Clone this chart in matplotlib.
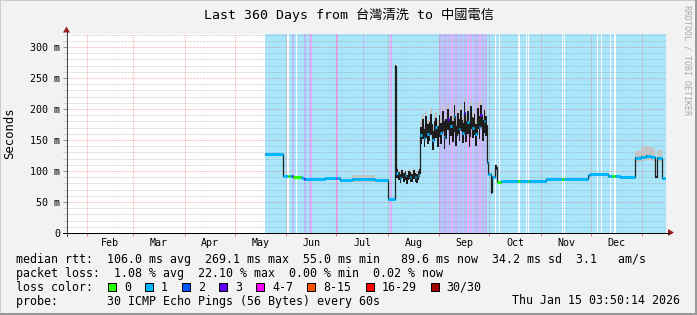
import matplotlib
matplotlib.use("Agg")
import matplotlib.pyplot as plt
import matplotlib.dates as mdates
from matplotlib.patches import Rectangle, Polygon
from matplotlib.lines import Line2D
import numpy as np
import pandas as pd

# ---------------- data ----------------
title = "Last 360 Days from 台灣清洗 to 中國電信"
y_label = "Seconds"
watermark = "RRDTOOL / TOBI OETIKER"
x_start = "2025-01-20 03:50:14"
x_end = "2026-01-15 03:50:14"
month_labels = ["Feb", "Mar", "Apr", "May", "Jun", "Jul", "Aug", "Sep", "Oct", "Nov", "Dec"]
month_starts = ["2025-02-01", "2025-03-01", "2025-04-01", "2025-05-01", "2025-06-01",
                "2025-07-01", "2025-08-01", "2025-09-01", "2025-10-01", "2025-11-01",
                "2025-12-01", "2026-01-01"]
y_ticks_ms = [0, 50, 100, 150, 200, 250, 300]
y_tick_labels = ["0", "50 m", "100 m", "150 m", "200 m", "250 m", "300 m"]
y_max_ms = 321.8

loss_labels = ["0", "1", "2", "3", "4-7", "8-15", "16-29", "30/30"]

# median rtt (ms) at change points, smoke spreads (ms) and loss class (-1 = no colour)
med_time = [
    "2025-05-19 10:00", "2025-05-30 00:00", "2025-06-02 00:00", "2025-06-03 06:00",
    "2025-06-04 12:00", "2025-06-05 06:00", "2025-06-09 12:00", "2025-06-10 14:00",
    "2025-06-11 08:00", "2025-06-12 00:00", "2025-06-24 00:00", "2025-07-01 00:00",
    "2025-07-01 12:00", "2025-07-03 00:00", "2025-07-10 08:00", "2025-07-24 12:00",
    "2025-08-01 02:00", "2025-08-05 00:00", "2025-08-05 14:00",
    "2025-08-06 04:00", "2025-08-07 04:00", "2025-08-08 04:00", "2025-08-09 04:00",
    "2025-08-10 04:00", "2025-08-11 04:00", "2025-08-12 04:00", "2025-08-13 04:00",
    "2025-08-14 04:00", "2025-08-15 04:00", "2025-08-16 04:00", "2025-08-17 04:00",
    "2025-08-18 04:00", "2025-08-19 04:00", "2025-08-20 00:00",
    "2025-08-20 12:00", "2025-08-21 12:00", "2025-08-22 12:00", "2025-08-23 12:00",
    "2025-08-24 12:00", "2025-08-25 12:00", "2025-08-26 12:00", "2025-08-27 12:00",
    "2025-08-28 12:00", "2025-08-29 12:00", "2025-08-30 12:00", "2025-08-31 12:00",
    "2025-09-01 12:00", "2025-09-02 12:00", "2025-09-03 12:00", "2025-09-04 12:00",
    "2025-09-05 12:00", "2025-09-06 12:00", "2025-09-07 12:00", "2025-09-08 12:00",
    "2025-09-09 12:00", "2025-09-10 12:00", "2025-09-11 12:00", "2025-09-12 12:00",
    "2025-09-13 12:00", "2025-09-14 12:00", "2025-09-15 12:00", "2025-09-16 12:00",
    "2025-09-17 12:00", "2025-09-18 12:00", "2025-09-19 12:00", "2025-09-20 12:00",
    "2025-09-21 12:00", "2025-09-22 12:00", "2025-09-23 12:00", "2025-09-24 12:00",
    "2025-09-25 12:00", "2025-09-26 12:00", "2025-09-27 12:00", "2025-09-28 12:00",
    "2025-09-29 16:00", "2025-09-30 10:00", "2025-10-01 18:00", "2025-10-02 12:00",
    "2025-10-04 12:00", "2025-10-05 08:00", "2025-10-08 06:00", "2025-10-18 12:00",
    "2025-10-19 06:00", "2025-10-24 06:00", "2025-10-24 20:00", "2025-11-04 06:00",
    "2025-11-13 12:00", "2025-11-15 00:00", "2025-11-29 12:00", "2025-11-30 08:00",
    "2025-12-11 02:00", "2025-12-14 00:00", "2025-12-15 12:00", "2025-12-18 08:00",
    "2025-12-27 08:00", "2025-12-31 00:00", "2026-01-03 00:00", "2026-01-06 00:00",
    "2026-01-08 08:00", "2026-01-09 12:00", "2026-01-12 12:00",
]
med_ms = [
    127, 91.5, 91.5, 91.5,
    92, 91, 90, 89,
    87.5, 86.5, 89, 89,
    89, 86, 86.5, 85.7,
    55, 215, 269,
    96, 92, 88, 95,
    90, 93, 87, 94,
    91, 89, 95, 90,
    88, 93, 97,
    158, 168, 154, 172,
    160, 165, 176, 150,
    166, 171, 157, 175,
    162, 181, 155, 169,
    184, 161, 173, 164,
    189, 158, 177, 167,
    183, 162, 194, 165,
    179, 157, 187, 170,
    176, 159, 186, 171,
    190, 166, 181, 174,
    115, 95, 66, 90,
    106, 82, 84.5, 84.5,
    84.5, 84.5, 84.5, 86.7,
    86.7, 86.7, 93, 95.3,
    92, 92, 92, 90.5,
    121, 123, 125, 123,
    90, 121, 89,
]
smoke_dark = [
    0, 0, 0, 0,
    0, 0, 0, 1,
    1, 0, 0, 0,
    0, 0, 0, 0,
    0, 3, 3,
    8, 7, 8, 7,
    8, 7, 8, 7,
    8, 7, 8, 7,
    8, 7, 7,
    15, 17, 15, 18,
    17, 16, 18, 16,
    16, 17, 18, 17,
    18, 17, 19, 17,
    18, 19, 17, 18,
    19, 17, 18, 19,
    18, 17, 19, 18,
    19, 18, 19, 17,
    18, 19, 18, 19,
    19, 18, 19, 17,
    3, 2, 3, 2,
    4, 0, 0, 0,
    0, 0, 0, 0,
    0, 0, 0, 0,
    0, 0, 0, 0,
    1, 1, 1, 1,
    2, 1, 0,
]
smoke_light = [
    1, 1, 1, 1,
    1, 1, 1, 2,
    2, 1, 1, 1,
    1, 1, 7, 1,
    1, 5, 5,
    10, 9, 10, 9,
    10, 9, 10, 9,
    10, 9, 10, 9,
    10, 9, 9,
    22, 24, 21, 25,
    23, 22, 25, 23,
    22, 24, 25, 23,
    25, 24, 26, 23,
    25, 26, 24, 25,
    26, 23, 25, 26,
    25, 24, 26, 25,
    26, 25, 26, 24,
    25, 26, 25, 26,
    26, 25, 26, 24,
    5, 4, 4, 4,
    6, 1, 1, 1,
    1, 1, 1, 1,
    1, 1, 1, 1,
    1, 1, 1, 1,
    12, 15, 16, 14,
    3, 13, 1,
]
med_loss = [
    1, 1, 0, 1,
    3, 0, 1, 1,
    3, 1, 1, 4,
    1, 1, 1, 1,
    1, 3, -1,
    1, -1, 1, -1,
    -1, 1, -1, -1,
    1, -1, -1, 1,
    -1, 1, -1,
    1, -1, 1, -1,
    1, -1, -1, 1,
    -1, 1, -1, -1,
    1, -1, 1, -1,
    3, -1, 1, -1,
    1, -1, -1, 1,
    -1, 1, 3, -1,
    1, -1, -1, 1,
    -1, 1, -1, 1,
    3, -1, 1, -1,
    1, 1, -1, 1,
    -1, 0, 1, 0,
    1, 0, 1, 1,
    0, 1, 1, 1,
    1, 0, 1, 1,
    1, 1, 1, 1,
    -1, 1, 1,
]

# loss background: start of data and stripes (start, length in days, class; 9 = no loss)
bg_start = "2025-05-19 10:00"
stripe_start = [
    "2025-06-01 12:00", "2025-06-04 16:00", "2025-06-07 02:00", "2025-06-11 12:00",
    "2025-06-14 12:00", "2025-06-15 12:00", "2025-06-30 20:00", "2025-07-16 20:00",
    "2025-08-02 08:00",
    "2025-08-31 16:00", "2025-09-01 04:00", "2025-09-03 02:00", "2025-09-04 14:00",
    "2025-09-06 02:00", "2025-09-07 22:00", "2025-09-09 14:00", "2025-09-11 04:00",
    "2025-09-13 04:00", "2025-09-15 19:00", "2025-09-17 19:00", "2025-09-19 14:00",
    "2025-09-21 14:00", "2025-09-23 04:00", "2025-09-24 14:00", "2025-09-26 14:00",
    "2025-09-28 12:00",
    "2025-10-04 10:00", "2025-10-06 22:00", "2025-10-18 10:00", "2025-10-23 04:00",
    "2025-10-24 10:00", "2025-11-13 18:00", "2025-11-14 18:00", "2025-12-04 16:00",
    "2025-12-06 22:00", "2025-12-12 14:00", "2025-12-15 04:00",
]
stripe_days = [
    0.8, 1.0, 0.6, 1.0,
    1.0, 1.0, 1.0, 1.0,
    1.0,
    29.0, 1.2, 1.2, 1.2,
    1.2, 1.2, 1.2, 1.2,
    1.4, 1.2, 1.2, 1.2,
    1.2, 1.0, 1.2, 1.2,
    1.2,
    0.7, 0.7, 0.7, 0.6,
    0.6, 0.7, 0.7, 0.7,
    0.7, 0.7, 0.7,
]
stripe_cls = [
    9, 3, 9, 3,
    3, 4, 4, 3,
    4,
    2, 3, 3, 3,
    3, 4, 3, 3,
    3, 3, 4, 4,
    3, 3, 4, 3,
    3,
    9, 9, 9, 9,
    9, 9, 9, 9,
    9, 9, 9,
]

stats_rtt = "median rtt:  106.0 ms avg  269.1 ms max  55.0 ms min   89.6 ms now  34.2 ms sd  3.1   am/s"
stats_loss = "packet loss:  1.08 % avg  22.10 % max  0.00 % min  0.02 % now"
probe_text = "probe:       30 ICMP Echo Pings (56 Bytes) every 60s"
stamp_text = "Thu Jan 15 03:50:14 2026"

# ---------------- style ----------------
W, H = 697, 315
MONO = "DejaVu Sans Mono"
loss_colors = ["#26ff00", "#00b8ff", "#0059ff", "#5e00ff", "#ff00ff", "#ff5500", "#ff0000", "#a00000"]
bg_colors = {1: "#aae6fb", 2: "#b4d0fc", 3: "#c0bcfa", 4: "#e2b0fa", 9: "#ffffff"}


def fx(px):
    return px / W


def fy(py):
    return 1 - py / H


def dn(s):
    return mdates.date2num(pd.Timestamp(s).to_pydatetime())


fig = plt.figure(figsize=(W / 100, H / 100), dpi=100, facecolor="#f2f2f2")
ax = fig.add_axes([fx(67), fy(233), (666 - 67) / W, (233 - 33.5) / H])
ax.set_facecolor("white")
for s in ax.spines.values():
    s.set_visible(False)

t0, t1 = dn(x_start), dn(x_end)
ax.set_xlim(t0, t1)
ax.set_ylim(0, y_max_ms)

# loss background
ax.axvspan(dn(bg_start), t1, color=bg_colors[1], lw=0, zorder=0.5)
for s, d, c in zip(stripe_start, stripe_days, stripe_cls):
    a = dn(s)
    ax.axvspan(a, a + d, color=bg_colors[c], lw=0, zorder=0.6)

# grid
dot = (0, (0.72, 0.72))
for v in range(10, 330, 10):
    if v % 50 == 0:
        ax.axhline(v, color="#e05050", alpha=0.45, lw=0.72, ls=dot, zorder=1)
    else:
        ax.axhline(v, color="#808080", alpha=0.4, lw=0.72, ls=dot, zorder=1)
major = np.array([dn(m) for m in month_starts])
for m in major:
    ax.axvline(m, color="#e05050", alpha=0.45, lw=0.72, ls=dot, zorder=1)

# data
t = np.array([dn(s) for s in med_time] + [t1])
med = np.array(med_ms + [med_ms[-1]], dtype=float)
sd = np.array(smoke_dark + [smoke_dark[-1]], dtype=float)
sl = np.array(smoke_light + [smoke_light[-1]], dtype=float)
ax.fill_between(t, med - 0.5 * sl, med + sl, step="post", color="#c4c4c4", lw=0, zorder=2)
ax.fill_between(t, med - sd, med + 0.9 * sd, step="post", color="#1c1c1c", lw=0, zorder=2.1)
ax.step(t, med, where="post", color="#202020", lw=0.9, zorder=3)
for i in range(len(med_ms)):
    c = med_loss[i]
    if c >= 0:
        ax.hlines(med_ms[i], t[i], t[i + 1], color=loss_colors[c], lw=2.2, zorder=4)

# ticks
ax.set_xticks(major)
ax.set_xticklabels([])
mid = (major[:-1] + major[1:]) / 2
ax.set_xticks(mid, minor=True)
ax.set_xticklabels(month_labels, minor=True, fontfamily=MONO, fontsize=7.2)
ax.tick_params(axis="x", which="major", length=2.2, width=0.72, color="#e08080", direction="out")
ax.tick_params(axis="x", which="minor", length=0, pad=3.5)
ax.set_yticks(y_ticks_ms)
ax.set_yticklabels(y_tick_labels, fontfamily=MONO, fontsize=7.2)
ax.set_yticks(range(10, 330, 10), minor=True)
ax.tick_params(axis="y", which="major", length=2.9, width=0.72, color="#909090", pad=2.2)
ax.tick_params(axis="y", which="minor", length=2.9, width=0.72, color="#d0d0d0")

# axes lines + arrows
fig.add_artist(Line2D([fx(63), fx(669)], [fy(232.5), fy(232.5)], color="#000000", lw=0.72))
fig.add_artist(Line2D([fx(66.5), fx(66.5)], [fy(236), fy(32)], color="#404040", lw=0.72))
fig.add_artist(Polygon([[fx(668), fy(229)], [fx(674), fy(232.5)], [fx(668), fy(236)]],
                       closed=True, color="#9b1c1c", lw=0))
fig.add_artist(Polygon([[fx(63), fy(32.5)], [fx(70), fy(32.5)], [fx(66.5), fy(26.5)]],
                       closed=True, color="#9b1c1c", lw=0))

# texts
fig.text(0.5, fy(19), title, ha="center", va="baseline", fontsize=9.5,
         family=[MONO, "Noto Sans CJK TC"])
fig.text(fx(10), fy(133), y_label, rotation=90, ha="center", va="center", fontsize=8.8, family=MONO)
fig.text(fx(687), fy(5), watermark, rotation=270, ha="center", va="top", fontsize=6,
         family=MONO, color="#a8a8a8")

LF = 8.4
CW = 7.02
fig.text(fx(16), fy(263), stats_rtt, fontsize=LF, family=MONO, va="baseline")
fig.text(fx(16), fy(277), stats_loss, fontsize=LF, family=MONO, va="baseline")
fig.text(fx(16), fy(291), "loss color:", fontsize=LF, family=MONO, va="baseline")
x = 108.3
for lab, col in zip(loss_labels, loss_colors):
    fig.add_artist(Rectangle((fx(x), fy(291)), 8 / W, 8 / H, transform=fig.transFigure,
                             facecolor=col, edgecolor="black", lw=0.72))
    fig.text(fx(x + 15.7), fy(291), lab, fontsize=LF, family=MONO, va="baseline")
    x = x + 15.7 + len(lab) * CW + 14.3
fig.text(fx(16), fy(305), probe_text, fontsize=LF, family=MONO, va="baseline")
fig.text(fx(680), fy(304), stamp_text, fontsize=LF, family=MONO, va="baseline", ha="right")

# frame shading
fig.add_artist(Rectangle((0, fy(1)), 1, 1 / H, transform=fig.transFigure, color="#cbcbcb", lw=0))
fig.add_artist(Rectangle((0, 0), 1 / W, 1, transform=fig.transFigure, color="#cbcbcb", lw=0))
fig.add_artist(Rectangle((0, 0), 1, 2 / H, transform=fig.transFigure, color="#999999", lw=0))
fig.add_artist(Rectangle((1 - 2 / W, 0), 2 / W, 1, transform=fig.transFigure, color="#999999", lw=0))

fig.savefig("out.png", dpi=100, facecolor=fig.get_facecolor())
